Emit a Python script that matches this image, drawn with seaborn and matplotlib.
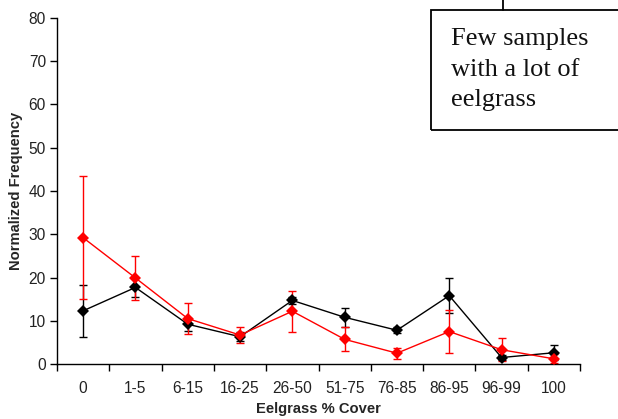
import matplotlib

matplotlib.use("Agg")
import matplotlib.pyplot as plt
import numpy as np
import pandas as pd
import seaborn as sns

categories = ["0", "1-5", "6-15", "16-25", "26-50", "51-75", "76-85", "86-95", "96-99", "100"]
black_mean = [12.3, 17.7, 9.2, 6.3, 14.7, 10.8, 7.8, 15.8, 1.5, 2.6]
black_err = [6.0, 2.2, 1.5, 1.0, 0.8, 2.2, 0.7, 4.1, 0.5, 1.7]
red_mean = [29.2, 19.9, 10.5, 6.7, 12.2, 5.7, 2.5, 7.5, 3.3, 1.2]
red_err = [14.2, 5.0, 3.6, 1.9, 4.7, 2.8, 1.3, 5.0, 2.6, 1.0]
y_ticks = [0, 10, 20, 30, 40, 50, 60, 70, 80]
note_lines = ["Few samples", "with a lot of", "eelgrass"]

sns.set_theme(style="white")
plt.rcParams["font.family"] = ["Liberation Sans", "DejaVu Sans"]

pos = np.arange(len(categories))
df = pd.DataFrame(
    {
        "pos": np.concatenate([pos, pos]),
        "value": black_mean + red_mean,
        "series": ["black"] * len(pos) + ["red"] * len(pos),
    }
)

W, H = 618, 419
fig = plt.figure(figsize=(W / 100, H / 100), dpi=100)
ax = fig.add_axes([57 / W, 55 / H, 523 / W, 346 / H])

for means, errs, color in [(black_mean, black_err, "black"), (red_mean, red_err, "red")]:
    ax.errorbar(pos, means, yerr=errs, fmt="none", ecolor=color, elinewidth=1,
                capsize=3, capthick=1, zorder=2)

sns.lineplot(data=df, x="pos", y="value", hue="series",
             palette={"black": "black", "red": "red"}, marker="D",
             markersize=6, markeredgewidth=0, linewidth=1, legend=False,
             ax=ax, zorder=3)

ax.set_xlim(-0.5, len(categories) - 0.5)
ax.set_ylim(0, 80)
ax.set_yticks(y_ticks)
ax.set_xticks(np.arange(-0.5, len(categories), 1.0))
ax.set_xticklabels([])
ax.set_xticks(pos, minor=True)
ax.set_xticklabels(categories, minor=True)
ax.tick_params(axis="x", which="major", direction="out", length=5, width=1,
               color="black", bottom=True)
ax.tick_params(axis="x", which="minor", length=0, pad=12.5, labelsize=11.2,
               labelcolor="#222222")
ax.tick_params(axis="y", direction="out", length=5, width=1, color="black",
               left=True, labelsize=11.2, labelcolor="#222222", pad=3)

for side in ["top", "right"]:
    ax.spines[side].set_visible(False)
for side in ["left", "bottom"]:
    ax.spines[side].set_color("black")
    ax.spines[side].set_linewidth(1)

ax.set_xlabel("Eelgrass % Cover", fontsize=10.6, fontweight="bold", va="center")
ax.set_ylabel("Normalized Frequency", fontsize=10.6, fontweight="bold", va="center")
ax.xaxis.set_label_coords(0.5, (364 - 409) / 346)
ax.yaxis.set_label_coords((16 - 57) / 523, 0.5)

# annotation box running off the right edge, with a leader line to the top
fig.add_artist(plt.Rectangle((431 / W, 1 - 130 / H), 200 / W, 119.5 / H,
                             transform=fig.transFigure, fill=False,
                             edgecolor="black", linewidth=1.3, clip_on=False))
fig.add_artist(plt.Line2D([503 / W, 503 / W], [1 - 10.5 / H, 1.0],
                          transform=fig.transFigure, color="black", linewidth=1.3))
for line, base in zip(note_lines, [45, 76, 106]):
    fig.text(451 / W, 1 - base / H, line, fontsize=19, va="baseline", ha="left",
             family=["Liberation Serif", "DejaVu Serif"], color="#111111")

fig.savefig("out.png", dpi=100)
